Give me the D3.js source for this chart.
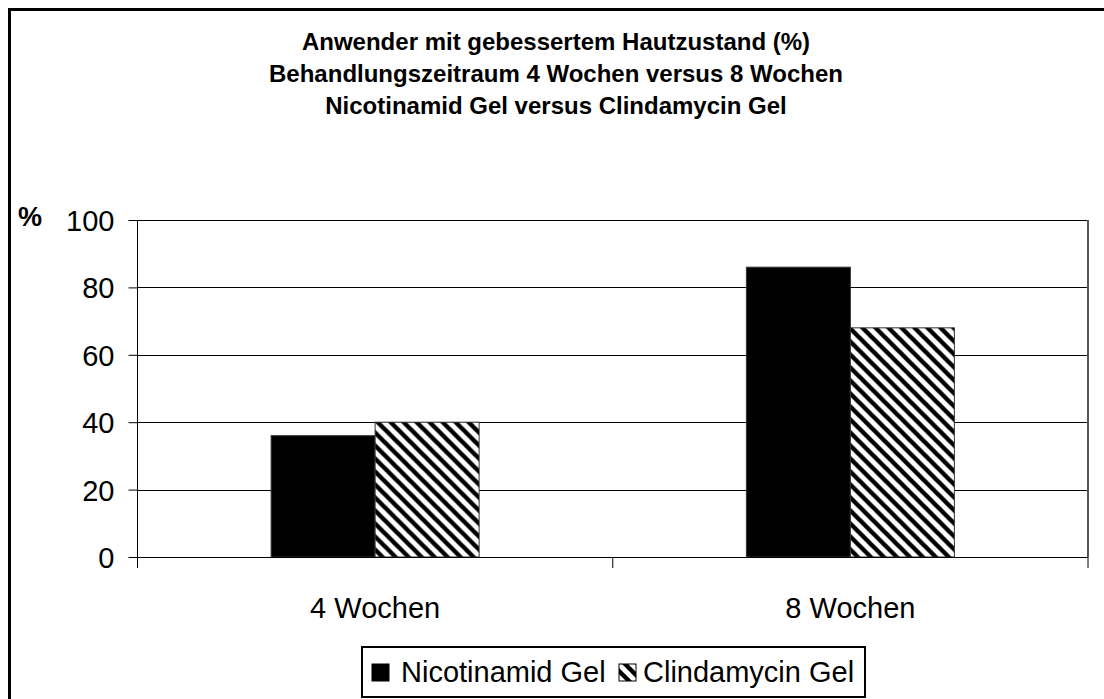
<!DOCTYPE html>
<html>
<head>
<meta charset="utf-8">
<script src="https://cdn.jsdelivr.net/npm/d3@7"></script>
<style>
  html, body { margin: 0; padding: 0; background: #fff; }
  svg { display: block; font-family: "Liberation Sans", Arial, sans-serif; }
</style>
</head>
<body>
<svg id="chart" width="1104" height="699"></svg>
<script>
// ---- data ----
const categories = ["4 Wochen", "8 Wochen"];
const seriesNames = ["Nicotinamid Gel", "Clindamycin Gel"];
const nicotinamidValues = [36, 86];
const clindamycinValues = [40, 68];
const yTicks = [0, 20, 40, 60, 80, 100];
const titleLines = [
  "Anwender mit gebessertem Hautzustand (%)",
  "Behandlungszeitraum 4 Wochen versus 8 Wochen",
  "Nicotinamid Gel versus Clindamycin Gel"
];
const yAxisLabel = "%";

const rows = categories.map((c, i) => ({
  category: c,
  values: [
    { series: seriesNames[0], value: nicotinamidValues[i] },
    { series: seriesNames[1], value: clindamycinValues[i] }
  ]
}));

// ---- layout ----
const svg = d3.select("#chart");
const plot = { left: 137.5, right: 1088, top: 220, bottom: 557 };

// outer frame
svg.append("rect")
  .attr("x", 9.5).attr("y", 9.5)
  .attr("width", 1200).attr("height", 800)
  .attr("fill", "#fff").attr("stroke", "#000").attr("stroke-width", 3);

// hatch pattern
const defs = svg.append("defs");
const P = 13;
const pat = defs.append("pattern")
  .attr("id", "hatch")
  .attr("patternUnits", "userSpaceOnUse")
  .attr("width", P).attr("height", P);
pat.append("rect").attr("width", P).attr("height", P).attr("fill", "#fff");
pat.append("path")
  .attr("d", `M${-P},0 L${P},${2*P} M0,${-P} L${2*P},${P} M${-P},${-P} L${2*P},${2*P}`)
  .attr("stroke", "#000").attr("stroke-width", 4.4);

const fills = { [seriesNames[0]]: "#000", [seriesNames[1]]: "url(#hatch)" };

// scales
const x0 = d3.scaleBand().domain(categories).range([plot.left, plot.right]).padding(0);
const groupW = 208;
const x1 = d3.scaleBand().domain(seriesNames)
  .range([(x0.bandwidth() - groupW) / 2, (x0.bandwidth() + groupW) / 2]).padding(0);
const y = d3.scaleLinear().domain([0, 100]).range([plot.bottom, plot.top]);

// title
svg.append("g").selectAll("text").data(titleLines).join("text")
  .attr("x", 556).attr("y", (d, i) => 50 + i * 32)
  .attr("text-anchor", "middle")
  .attr("font-size", 24).attr("font-weight", "bold")
  .text(d => d);

// gridlines
svg.append("g").selectAll("line").data(yTicks).join("line")
  .attr("x1", plot.left).attr("x2", plot.right)
  .attr("y1", d => Math.round(y(d)) + 0.5).attr("y2", d => Math.round(y(d)) + 0.5)
  .attr("stroke", "#000").attr("stroke-width", 1);

// right border of plot
svg.append("line")
  .attr("x1", plot.right).attr("x2", plot.right)
  .attr("y1", plot.top).attr("y2", plot.bottom)
  .attr("stroke", "#555").attr("stroke-width", 2);

// bars
const groups = svg.append("g").selectAll("g").data(rows).join("g")
  .attr("transform", d => `translate(${x0(d.category)},0)`);
groups.selectAll("rect").data(d => d.values).join("rect")
  .attr("x", d => x1(d.series))
  .attr("y", d => y(d.value))
  .attr("width", x1.bandwidth())
  .attr("height", d => y(0) - y(d.value))
  .attr("fill", d => fills[d.series])
  .attr("stroke", "#333").attr("stroke-width", 1);

// y axis
const yAxis = d3.axisLeft(y).tickValues(yTicks).tickSize(9).tickPadding(14).tickFormat(d3.format("d"));
const gy = svg.append("g").attr("transform", `translate(${plot.left},0)`).call(yAxis);
gy.select(".domain").attr("stroke", "#000").attr("d", `M0,${plot.top}V${plot.bottom + 10}`);
gy.selectAll(".tick line").attr("stroke", "#000");
gy.selectAll(".tick text").attr("font-size", 29).attr("fill", "#000")
  .attr("font-family", "'Liberation Sans', Arial, sans-serif").attr("dy", "0.36em");

// x axis
const xAxis = d3.axisBottom(x0).tickSize(0).tickPadding(40);
const gx = svg.append("g").attr("transform", `translate(0,${plot.bottom})`).call(xAxis);
gx.select(".domain").attr("stroke", "#000").attr("d", `M${plot.left},0.5H${plot.right}`);
gx.selectAll(".tick text").attr("font-size", 29).attr("fill", "#000")
  .attr("font-family", "'Liberation Sans', Arial, sans-serif");
// category separators
const seps = [plot.left, ...categories.map(c => x0(c) + x0.bandwidth())];
gx.append("g").selectAll("line").data(seps).join("line")
  .attr("x1", d => d).attr("x2", d => d).attr("y1", 0).attr("y2", 11)
  .attr("stroke", "#000");

// y label
svg.append("text").attr("x", 18).attr("y", 226)
  .attr("font-size", 27).attr("font-weight", "bold").text(yAxisLabel);

// legend
const lg = svg.append("g");
lg.append("rect").attr("x", 362).attr("y", 647).attr("width", 503).attr("height", 50)
  .attr("fill", "#fff").attr("stroke", "#000").attr("stroke-width", 2);
const legendItems = [
  { name: seriesNames[0], sx: 372, tx: 401 },
  { name: seriesNames[1], sx: 619, tx: 643 }
];
lg.selectAll("rect.sw").data(legendItems).join("rect").attr("class", "sw")
  .attr("x", d => d.sx).attr("y", 664).attr("width", 17).attr("height", 17)
  .attr("fill", d => fills[d.name]).attr("stroke", "#000").attr("stroke-width", 1);
lg.selectAll("text").data(legendItems).join("text")
  .attr("x", d => d.tx).attr("y", 682)
  .attr("font-size", 29).text(d => d.name);
</script>
</body>
</html>
